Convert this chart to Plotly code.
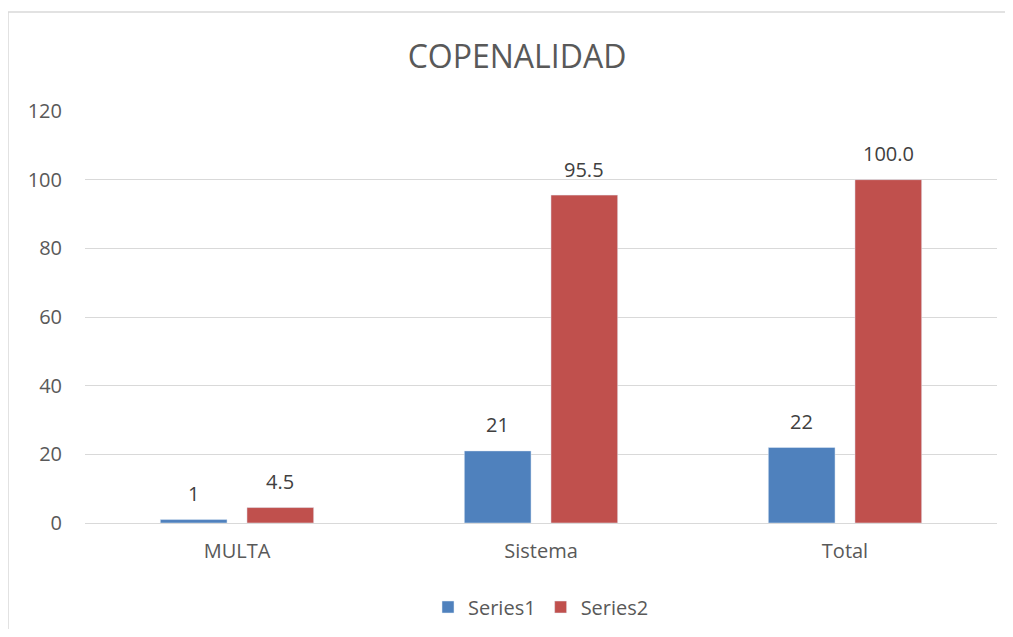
import plotly.graph_objects as go

categories = ["MULTA", "Sistema", "Total"]
series1 = [1, 21, 22]
series2 = [4.5, 95.5, 100.0]
series1_labels = ["1", "21", "22"]
series2_labels = ["4.5", "95.5", "100.0"]

font_family = "'Open Sans', Lato, sans-serif"
text_color = "#595959"
label_color = "#404040"
grid_color = "#D9D9D9"

fig = go.Figure()
fig.add_trace(go.Bar(x=categories, y=series1, name="Series1", marker_color="#4F81BD",
                     offsetgroup="1"))
fig.add_trace(go.Bar(x=categories, y=series2, name="Series2", marker_color="#C0504D",
                     offsetgroup="2"))

# Page body offset of 8px is accounted for; keep the page within the window
OFF = 8
W, H = 1013 - 2 * OFF, 637 - 2 * OFF
L, T = 85 - OFF, 111 - OFF
R = W - (997 - OFF)
B = H - (523 - OFF)
pw, ph = W - L - R, H - T - B

bargap, groupgap = 0.43, 0.23
slot = (1 - bargap) / 2
for vals, labs, side in ((series1, series1_labels, -1), (series2, series2_labels, 1)):
    for i, (v, lab) in enumerate(zip(vals, labs)):
        fig.add_annotation(x=i + side * slot / 2, y=v, xref="x", yref="y", text=lab,
                           showarrow=False, yanchor="middle", yshift=26,
                           font=dict(size=20, color=label_color, family=font_family))

fig.update_layout(
    width=W, height=H,
    margin=dict(l=L, r=R, t=T, b=B, pad=0, autoexpand=False),
    paper_bgcolor="white", plot_bgcolor="white",
    title=dict(text="COPENALIDAD", x=(517 - OFF) / W, xanchor="center",
               y=1 - (57 - OFF) / H, yanchor="middle",
               font=dict(size=32, color=text_color, family=font_family)),
    barmode="group", bargap=bargap, bargroupgap=groupgap,
    font=dict(family=font_family, color=text_color, size=20),
    showlegend=True,
    legend=dict(orientation="h", x=0.5, xanchor="center", y=-84 / ph, yanchor="middle",
                font=dict(size=20, color=text_color), itemwidth=30),
    xaxis=dict(showgrid=False, showline=False, ticks="", ticklabelstandoff=14, automargin=False,
               tickfont=dict(size=20, color=text_color)),
    yaxis=dict(range=[0, 120], dtick=20, showgrid=True, gridcolor=grid_color, gridwidth=1,
               zeroline=True, zerolinecolor=grid_color, zerolinewidth=1, showline=False,
               automargin=False,
               ticks="", ticklabelstandoff=22, tickfont=dict(size=20, color=text_color)),
)

fig.add_shape(type="rect", xref="paper", yref="paper",
              x0=(8 - 85) / pw, x1=(1013 + 5 - 85) / pw,
              y0=-(637 + 5 - 523) / ph, y1=1 + (111 - 12) / ph,
              line=dict(color=grid_color, width=1.5), fillcolor="rgba(0,0,0,0)", layer="below")

fig.write_html("out.html")
